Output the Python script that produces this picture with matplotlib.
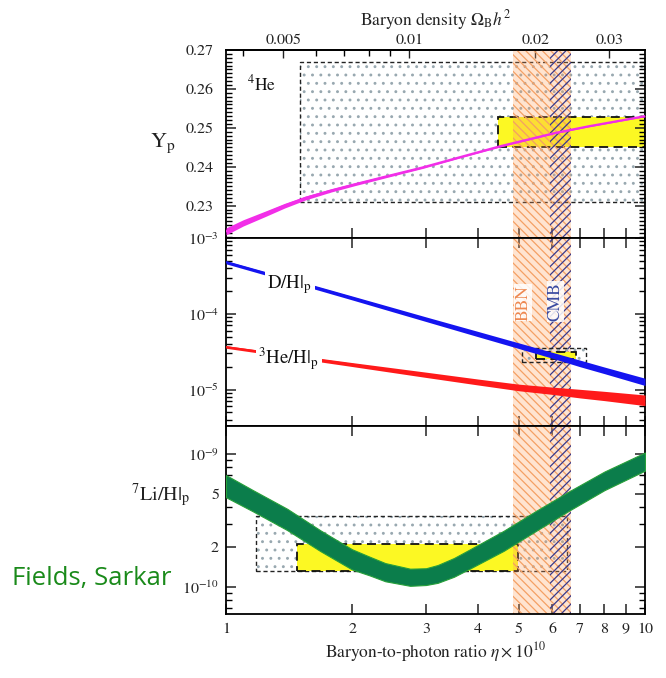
import numpy as np
import matplotlib
matplotlib.use('Agg')
import matplotlib.pyplot as plt
from matplotlib.patches import Rectangle
from matplotlib.ticker import FixedLocator, NullFormatter, NullLocator, MultipleLocator

plt.rcParams['font.family'] = ['STIXGeneral', 'DejaVu Serif']
plt.rcParams['mathtext.fontset'] = 'stix'
plt.rcParams['hatch.linewidth'] = 0.9

# ---------------- data ----------------
eta_yp = [1.0, 1.1, 1.24, 1.38, 1.55, 1.78, 2.03, 2.45, 2.94, 3.6, 4.52, 6.11, 7.34, 10.0]
yp_mid = [0.2234, 0.2256, 0.2279, 0.2300, 0.2320, 0.2339, 0.2355, 0.2377, 0.2398, 0.2424,
          0.2453, 0.2487, 0.2504, 0.2530]
yp_halfw = [0.0009, 0.0008, 0.0007, 0.0006, 0.0005, 0.0004, 0.00035, 0.0003, 0.00025, 0.0002,
            0.0002, 0.00015, 0.00015, 0.00015]

eta_lt = [1.0, 1.5, 2.0, 3.0, 4.0, 5.0, 6.0, 7.0, 8.0, 10.0]
dh_mid = [4.8e-4, 2.55e-4, 1.62e-4, 8.5e-5, 5.4e-5, 3.8e-5, 2.85e-5, 2.22e-5, 1.8e-5, 1.27e-5]
dh_relerr = [0.05, 0.055, 0.06, 0.07, 0.08, 0.085, 0.09, 0.10, 0.10, 0.11]
he3_mid = [3.65e-5, 2.67e-5, 2.14e-5, 1.57e-5, 1.26e-5, 1.07e-5, 9.7e-6, 8.9e-6, 8.3e-6, 7.3e-6]
he3_relerr = [0.04, 0.05, 0.06, 0.08, 0.09, 0.10, 0.11, 0.13, 0.14, 0.16]

eta_li = [1.0, 1.16, 1.4, 1.68, 2.0, 2.2, 2.4, 2.75, 3.0, 3.2, 3.5, 3.8, 4.6, 5.5, 6.6, 8.0, 10.0]
li_lo_e10 = [4.75, 3.72, 2.69, 1.87, 1.36, 1.23, 1.11, 1.026, 1.04, 1.08, 1.20, 1.37, 1.88, 2.66, 3.78, 5.37, 7.53]
li_hi_e10 = [6.97, 5.37, 3.89, 2.68, 1.93, 1.70, 1.52, 1.38, 1.39, 1.47, 1.66, 1.91, 2.66, 3.76, 5.28, 7.41, 10.3]

# observational boxes: (eta_min, eta_max, y_min, y_max)
he4_wide = (1.5, 10.0, 0.2309, 0.2670)
he4_box = (4.45, 10.0, 0.2452, 0.2529)
dh_wide = (5.1, 7.25, 2.3e-5, 3.5e-5)
dh_box = (5.5, 6.85, 2.5e-5, 3.15e-5)
li_wide = (1.18, 6.5, 1.32e-10, 3.44e-10)
li_box = (1.48, 4.97, 1.32e-10, 2.11e-10)

bbn_band = (4.83, 6.66)
cmb_band = (5.93, 6.66)

x_ticks = [1, 2, 3, 4, 5, 6, 7, 8, 9, 10]
omega_ticks = [0.005, 0.01, 0.02, 0.03]
omega_minor = [0.004, 0.006, 0.007, 0.008, 0.009]
ETA_PER_OMEGA = 273.9

# ---------------- figure ----------------
W, H = 666, 678
fig = plt.figure(figsize=(W / 100, H / 100), dpi=100)
L = 226 / W
AW = 419 / W
PH = 188 / H
ax1 = fig.add_axes([L, 1 - 238 / H, AW, PH])
ax2 = fig.add_axes([L, 1 - 426 / H, AW, PH], sharex=ax1)
ax3 = fig.add_axes([L, 1 - 614 / H, AW, PH], sharex=ax1)

TXT = '#222222'
for ax in (ax1, ax2, ax3):
    ax.set_xscale('log')
    for s in ax.spines.values():
        s.set_linewidth(1.3)
ax1.set_xlim(1, 10)
ax3.set_xticks(x_ticks)
ax3.set_xticklabels([str(v) for v in x_ticks])
ax3.xaxis.set_minor_locator(NullLocator())

def stipple_box(ax, b, z=1):
    x0, x1, y0, y1 = b
    ax.add_patch(Rectangle((x0, y0), x1 - x0, y1 - y0, facecolor='none',
                           edgecolor='#98a8b0', hatch='..', lw=0, zorder=z))
    ax.add_patch(Rectangle((x0, y0), x1 - x0, y1 - y0, fill=False,
                           edgecolor='#222222', ls=(0, (3, 2)), lw=1.0, zorder=z + 0.1))

def yellow_box(ax, b, z=1.5):
    x0, x1, y0, y1 = b
    ax.add_patch(Rectangle((x0, y0), x1 - x0, y1 - y0, facecolor='#fcf823',
                           edgecolor='#111111', ls=(0, (5, 3)), lw=1.3, zorder=z))

def bands(ax):
    ax.axvspan(*bbn_band, facecolor=(1.0, 0.62, 0.35, 0.28), edgecolor='none', zorder=2)
    ax.axvspan(*bbn_band, facecolor='none', edgecolor='#f4a064', hatch='\\\\\\\\', lw=0, zorder=2.1)
    ax.axvspan(*cmb_band, facecolor='none', edgecolor='#3a3a8c', hatch='////', lw=0, zorder=2.2)

# ---- top panel: 4He ----
stipple_box(ax1, he4_wide)
yellow_box(ax1, he4_box)
bands(ax1)
yp_mid_a = np.array(yp_mid)
yp_hw_a = np.array(yp_halfw)
ax1.fill_between(eta_yp, yp_mid_a - yp_hw_a, yp_mid_a + yp_hw_a, color='#f22ee8', lw=0, zorder=5)
ax1.plot(eta_yp, yp_mid, color='#f22ee8', lw=1.6, zorder=5)
ax1.set_ylim(0.2217, 0.27)
ax1.set_yticks([0.23, 0.24, 0.25, 0.26, 0.27])
ax1.set_yticklabels(['0.23', '0.24', '0.25', '0.26', '0.27'])
ax1.yaxis.set_minor_locator(MultipleLocator(0.001))
ax1.text(1.12, 0.2612, r'$^{4}$He', fontsize=12.5, color='#111111', va='center', ha='left', zorder=6)
ax1.set_ylabel(r'Y$_{\rm p}$', rotation=0, fontsize=16, color=TXT)
ax1.yaxis.set_label_coords(-0.15, 0.44)

sec = ax1.secondary_xaxis('top', functions=(lambda e: np.asarray(e) / ETA_PER_OMEGA,
                                             lambda o: np.asarray(o) * ETA_PER_OMEGA))
sec.set_xticks(omega_ticks)
sec.set_xticklabels(['0.005', '0.01', '0.02', '0.03'])
sec.xaxis.set_minor_locator(FixedLocator(omega_minor))
sec.xaxis.set_minor_formatter(NullFormatter())
sec.tick_params(which='major', direction='in', length=6, width=1.0, labelsize=11.5, pad=2, colors=TXT)
sec.tick_params(which='minor', direction='in', length=4, width=1.0)
sec.set_xlabel(r'Baryon density $\Omega_{\rm B}h^2$', fontsize=12.5, color=TXT, labelpad=6)
sec.spines['top'].set_linewidth(1.3)

# ---- middle panel: D and 3He ----
stipple_box(ax2, dh_wide, z=3)
yellow_box(ax2, dh_box, z=3.5)
bands(ax2)
dh_a = np.array(dh_mid); dhe = np.array(dh_relerr)
he_a = np.array(he3_mid); hee = np.array(he3_relerr)
ax2.fill_between(eta_lt, dh_a * (1 - dhe), dh_a * (1 + dhe), color='#1414f0', lw=0, zorder=5)
ax2.plot(eta_lt, dh_mid, color='#1414f0', lw=1.2, zorder=5)
ax2.fill_between(eta_lt, he_a * (1 - hee), he_a * (1 + hee), color='#ff1a1a', lw=0, zorder=5)
ax2.plot(eta_lt, he3_mid, color='#ff1a1a', lw=1.2, zorder=5)
ax2.set_yscale('log')
ax2.set_ylim(3.3e-6, 1e-3)
ax2.set_yticks([1e-5, 1e-4, 1e-3])
ax2.set_yticklabels([r'$10^{-5}$', r'$10^{-4}$', r'$10^{-3}$'])
ax2.yaxis.set_minor_locator(FixedLocator([4e-6, 5e-6, 6e-6, 7e-6, 8e-6, 9e-6,
                                          2e-5, 3e-5, 4e-5, 5e-5, 6e-5, 7e-5, 8e-5, 9e-5,
                                          2e-4, 3e-4, 4e-4, 5e-4, 6e-4, 7e-4, 8e-4, 9e-4]))
ax2.yaxis.set_minor_formatter(NullFormatter())
ax2.text(1.255, 2.45e-4, r'D/H$|_{\rm p}$', fontsize=13.5, color='#111111', va='center', ha='left',
         zorder=6, bbox=dict(facecolor='white', edgecolor='none', pad=2))
ax2.text(1.195, 2.55e-5, r'$^{3}$He/H$|_{\rm p}$', fontsize=13.5, color='#111111', va='center', ha='left',
         zorder=6, bbox=dict(facecolor='white', edgecolor='none', pad=2))
ax2.text(5.12, 1.4e-4, 'BBN', rotation=90, fontsize=12.5, color='#ee8850', ha='center', va='center',
         zorder=6, bbox=dict(facecolor='white', edgecolor='none', pad=0.5, alpha=0.85))
ax2.text(6.12, 1.45e-4, 'CMB', rotation=90, fontsize=12.5, color='#3a4aa0', ha='center', va='center',
         zorder=6, bbox=dict(facecolor='white', edgecolor='none', pad=0.5, alpha=0.85))

# ---- bottom panel: 7Li ----
stipple_box(ax3, li_wide)
yellow_box(ax3, li_box)
bands(ax3)
ax3.fill_between(eta_li, np.array(li_lo_e10) * 1e-10, np.array(li_hi_e10) * 1e-10,
                 facecolor='#0b7d4b', edgecolor='#27a03a', lw=0.8, zorder=5)
ax3.set_yscale('log')
ax3.set_ylim(6.3e-11, 1.63e-9)
ax3.set_yticks([1e-10, 2e-10, 5e-10, 1e-9])
ax3.set_yticklabels([r'$10^{-10}$', '2', '5', r'$10^{-9}$'])
ax3.yaxis.set_minor_locator(FixedLocator([7e-11, 8e-11, 9e-11, 3e-10, 4e-10, 6e-10, 7e-10, 8e-10, 9e-10]))
ax3.yaxis.set_minor_formatter(NullFormatter())
ax3.set_ylabel(r'$^{7}$Li/H$|_{\rm p}$', rotation=0, fontsize=14.5, color=TXT)
ax3.yaxis.set_label_coords(-0.155, 0.56)
ax3.set_xlabel(r'Baryon-to-photon ratio $\eta\times10^{10}$', fontsize=12.5, color=TXT, labelpad=3)

for ax in (ax1, ax2, ax3):
    ax.tick_params(which='major', direction='in', length=7, width=1.1, right=True,
                   top=(ax is not ax1), labelsize=11.5, colors=TXT)
    ax.tick_params(which='minor', direction='in', length=4, width=1.0, right=True,
                   top=(ax is not ax1))
    ax.tick_params(axis='y', pad=5)
ax1.tick_params(axis='y', pad=9)
ax1.tick_params(labelbottom=False)
ax2.tick_params(labelbottom=False)
ax3.tick_params(axis='x', pad=6)

fig.text(12 / W, 1 - 578 / H, 'Fields, Sarkar', fontsize=18.5, color='#1a8a1a',
         family=['Open Sans', 'DejaVu Sans'], ha='left', va='center')

fig.savefig('out.png', dpi=100)
